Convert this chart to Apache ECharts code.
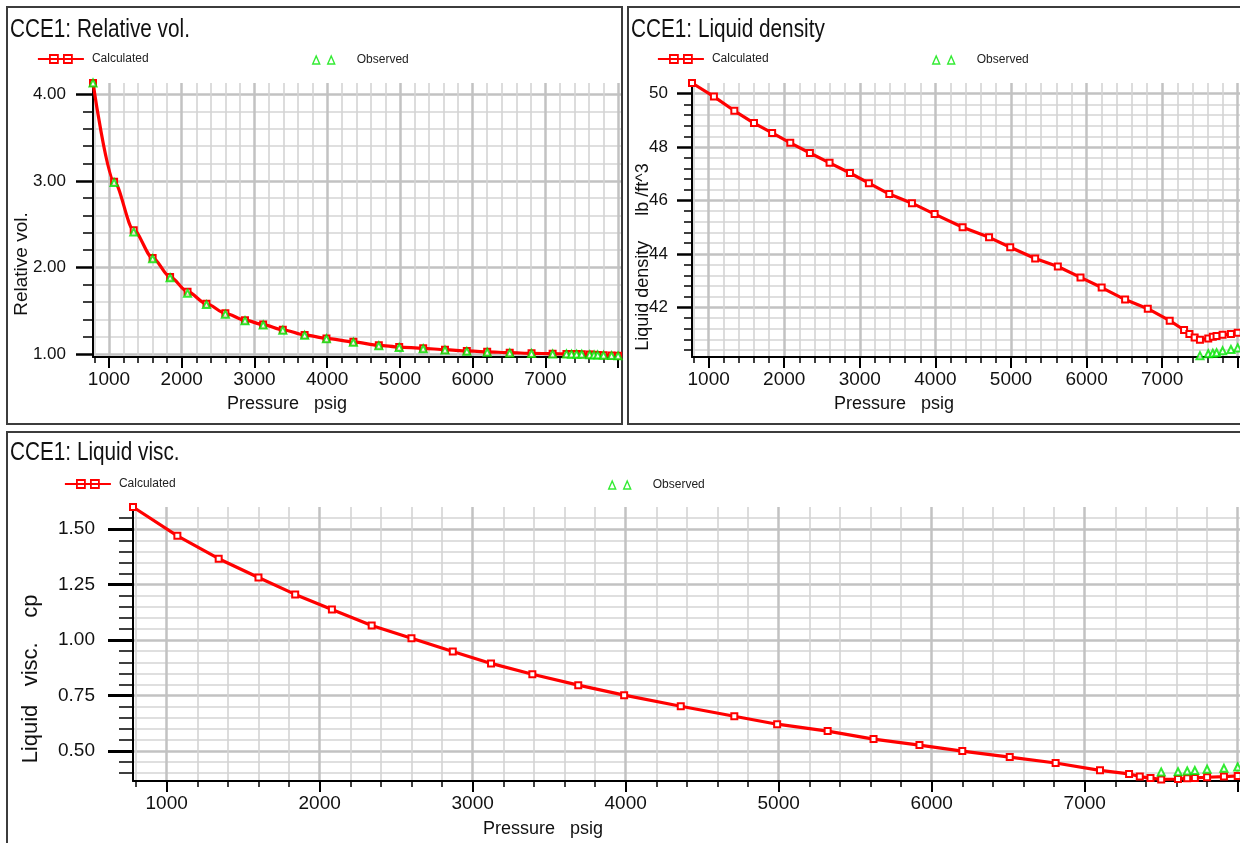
<!DOCTYPE html>
<html>
<head>
<meta charset="utf-8">
<script src="https://cdn.jsdelivr.net/npm/echarts@6/dist/echarts.min.js"></script>
<style>
  html, body { margin: 0; padding: 0; background: #fff; }
  #chart { width: 1240px; height: 843px; }
</style>
</head>
<body>
<div id="chart"></div>
<script>
// Pressure steps of the constant composition expansion (psig)
const pressure = [780, 1070, 1340, 1600, 1840, 2080, 2340, 2600, 2870, 3120, 3390,
  3690, 3990, 4360, 4710, 4990, 5320, 5620, 5920, 6200, 6510, 6810, 7100, 7290,
  7360, 7430, 7500, 7610, 7670, 7720, 7800, 7910, 8000];

// Relative volume, calculated and observed at the same pressures
const relVolCalc = [4.13, 2.99, 2.43, 2.11, 1.89, 1.72, 1.58, 1.47, 1.39, 1.34, 1.28,
  1.22, 1.18, 1.14, 1.10, 1.08, 1.065, 1.05, 1.035, 1.025, 1.015, 1.008, 1.003, 1.001,
  1.0, 1.0, 0.998, 0.993, 0.99, 0.988, 0.985, 0.982, 0.979];
const relVolObs = [4.13, 2.98, 2.41, 2.10, 1.88, 1.70, 1.57, 1.46, 1.385, 1.335, 1.275,
  1.215, 1.175, 1.135, 1.095, 1.075, 1.06, 1.045, 1.03, 1.02, 1.012, 1.005, 1.0, 0.999,
  0.998, 0.997, 0.996, 0.992, 0.989, 0.987, 0.984, 0.981, 0.978];

// Liquid density (lb/ft^3)
const densityCalc = [50.4, 49.89, 49.36, 48.9, 48.53, 48.16, 47.78, 47.41, 47.03, 46.65,
  46.24, 45.9, 45.49, 45.0, 44.62, 44.25, 43.83, 43.53, 43.12, 42.74, 42.29, 41.95,
  41.5, 41.15, 41.0, 40.87, 40.79, 40.83, 40.9, 40.93, 40.97, 41.0, 41.05];
const densityObsPressure = [7500, 7610, 7670, 7720, 7800, 7910, 8000];
const densityObs = [40.19, 40.26, 40.28, 40.3, 40.37, 40.42, 40.48];

// Liquid viscosity (cp)
const viscCalc = [1.60, 1.47, 1.367, 1.282, 1.206, 1.138, 1.066, 1.008, 0.949, 0.895,
  0.846, 0.797, 0.752, 0.702, 0.657, 0.621, 0.59, 0.554, 0.527, 0.50, 0.473, 0.446,
  0.413, 0.397, 0.385, 0.378, 0.372, 0.374, 0.377, 0.379, 0.382, 0.385, 0.388];
const viscObsPressure = [7500, 7610, 7670, 7720, 7800, 7910, 8000];
const viscObs = [0.406, 0.407, 0.41, 0.412, 0.418, 0.422, 0.428];

// Tick marks and labels
const pressureTicks = [1000, 2000, 3000, 4000, 5000, 6000, 7000, 8000];
const pressureLabels = [1000, 2000, 3000, 4000, 5000, 6000, 7000];
const relVolTicks = [1, 2, 3, 4];
const densityTicks = [42, 44, 46, 48, 50];
const viscTicks = [0.5, 0.75, 1.0, 1.25, 1.5];

const RED = '#ff0000';
const GREEN = '#00e600';
const SANS = '"Liberation Sans", Arial, sans-serif';

const pairs = (xs, ys) => xs.map((x, i) => [x, ys[i]]);

function pressureAxis(gridIndex, max) {
  return {
    type: 'value', gridIndex, min: 780, max,
    minInterval: 1000, maxInterval: 1000,
    axisLine: { show: true, onZero: false, lineStyle: { color: '#000', width: 2 } },
    axisTick: { show: true, length: 11, customValues: pressureTicks,
      lineStyle: { color: '#000', width: 2 } },
    minorTick: { show: true, splitNumber: 5, length: 6, lineStyle: { color: '#000', width: 1.5 } },
    axisLabel: { customValues: pressureLabels, margin: 13, fontFamily: SANS, fontSize: 19,
      color: '#111', formatter: v => String(v) },
    splitLine: { show: true, lineStyle: { color: '#c2c2c2', width: 2.5 } },
    minorSplitLine: { show: true, lineStyle: { color: '#d4d4d4', width: 1.6 } }
  };
}

function valueAxis(gridIndex, min, max, step, ticks, o) {
  return {
    type: 'value', gridIndex, min, max,
    minInterval: step, maxInterval: step,
    axisLine: { show: true, onZero: false, lineStyle: { color: '#000', width: 2 } },
    axisTick: { show: true, length: o.tick, customValues: ticks,
      lineStyle: { color: '#000', width: o.tickWidth } },
    minorTick: { show: true, splitNumber: 5, length: o.minor, lineStyle: { color: '#000', width: 1.5 } },
    axisLabel: { customValues: ticks, margin: o.margin, fontFamily: SANS, fontSize: o.font,
      color: '#111', formatter: o.fmt },
    splitLine: { show: true, lineStyle: { color: '#c2c2c2', width: 2.5 } },
    minorSplitLine: { show: true, lineStyle: { color: '#d4d4d4', width: 1.6 } }
  };
}

const calcIcon = 'path://M0 5 L46 5 M12 1 L20 1 L20 9 L12 9 Z M26 1 L34 1 L34 9 L26 9 Z';
const obsIcon = 'path://M0 9 L3.5 1 L7 9 Z M15 9 L18.5 1 L22 9 Z';

function legendItem(name, left, top) {
  const calc = name === 'Calculated';
  return {
    data: [name], left, top, padding: 0, selectedMode: false,
    icon: calc ? calcIcon : obsIcon,
    itemWidth: calc ? 46 : 22, itemHeight: calc ? 10 : 8,
    itemStyle: { color: 'rgba(0,0,0,0)', borderColor: calc ? RED : GREEN, borderWidth: calc ? 1.8 : 1.4 },
    textStyle: { fontFamily: SANS, fontSize: 12, color: '#222',
      padding: [0, 0, 0, calc ? 3 : 17] }
  };
}

// Panel headings, condensed horizontally
function heading(text, x, y) {
  return {
    type: 'text', x, y, scaleX: 0.83, originX: 0, silent: true,
    style: { text, font: '25px ' + SANS, fill: '#111',
      align: 'left', verticalAlign: 'top', textAlign: 'left', textVerticalAlign: 'top' }
  };
}

function axisName(text, x, y, size, vertical) {
  return {
    type: 'text', x, y, rotation: vertical ? Math.PI / 2 : 0, silent: true,
    style: { text, font: size + 'px ' + SANS, fill: '#111',
      align: 'center', verticalAlign: 'middle', textAlign: 'center', textVerticalAlign: 'middle' }
  };
}

function frame(x, y, w, h) {
  return { type: 'rect', silent: true, shape: { x, y, width: w, height: h },
    style: { fill: 'none', stroke: '#3c3c3c', lineWidth: 2 } };
}

function calcSeries(idx, ys, smooth) {
  return {
    type: 'line', name: 'Calculated', xAxisIndex: idx, yAxisIndex: idx,
    data: pairs(pressure, ys), symbol: 'emptyRect', symbolSize: 6,
    smooth: smooth, smoothMonotone: 'x', clip: false, z: 3,
    lineStyle: { color: RED, width: 3.2 }, itemStyle: { color: RED, borderWidth: 1.3 }
  };
}

function obsSeries(idx, xs, ys) {
  return {
    type: 'scatter', name: 'Observed', xAxisIndex: idx, yAxisIndex: idx,
    data: pairs(xs, ys), symbol: 'emptyTriangle', symbolSize: 7, clip: false, z: 4,
    itemStyle: { color: GREEN, borderWidth: 1.3 }
  };
}

const chart = echarts.init(document.getElementById('chart'), null, { renderer: 'canvas' });

chart.setOption({
  animation: false,
  backgroundColor: '#fff',
  legend: [
    legendItem('Calculated', 37, 53),
    legendItem('Observed', 312, 54),
    legendItem('Calculated', 657, 53),
    legendItem('Observed', 932, 54),
    legendItem('Calculated', 64, 478),
    legendItem('Observed', 608, 479)
  ],
  grid: [
    { left: 93, top: 83, width: 528, height: 274 },
    { left: 692, top: 83, width: 548, height: 274 },
    { left: 133, top: 507, width: 1107, height: 274 }
  ],
  xAxis: [
    pressureAxis(0, 8040),
    pressureAxis(1, 8030),
    pressureAxis(2, 8015)
  ],
  yAxis: [
    valueAxis(0, 0.965, 4.13, 1, relVolTicks,
      { tick: 17, minor: 10, tickWidth: 2.5, margin: 27, font: 17, fmt: v => v.toFixed(2) }),
    valueAxis(1, 40.14, 50.4, 2, densityTicks,
      { tick: 15, minor: 8, tickWidth: 2.5, margin: 24, font: 17, fmt: v => String(Math.round(v)) }),
    valueAxis(2, 0.365, 1.6, 0.25, viscTicks,
      { tick: 25, minor: 14, tickWidth: 3, margin: 38, font: 19, fmt: v => v.toFixed(2) })
  ],
  graphic: [
    frame(7, 7, 615, 417),
    frame(628, 7, 620, 417),
    frame(7, 432, 1240, 420),
    heading('CCE1: Relative vol.', 10, 18),
    heading('CCE1: Liquid density', 631, 18),
    heading('CCE1: Liquid visc.', 10, 441),
    axisName('Pressure   psig', 287, 404, 18, false),
    axisName('Pressure   psig', 894, 404, 18, false),
    axisName('Pressure   psig', 543, 829, 18, false),
    axisName('Relative vol.', 22, 264, 19, true),
    axisName('Liquid density     lb /ft^3', 643, 257, 18, true),
    axisName('Liquid   visc.    cp', 31, 679, 22, true)
  ],
  series: [
    calcSeries(0, relVolCalc, 0.3),
    obsSeries(0, pressure, relVolObs),
    calcSeries(1, densityCalc, false),
    obsSeries(1, densityObsPressure, densityObs),
    calcSeries(2, viscCalc, false),
    obsSeries(2, viscObsPressure, viscObs)
  ]
});
</script>
</body>
</html>
